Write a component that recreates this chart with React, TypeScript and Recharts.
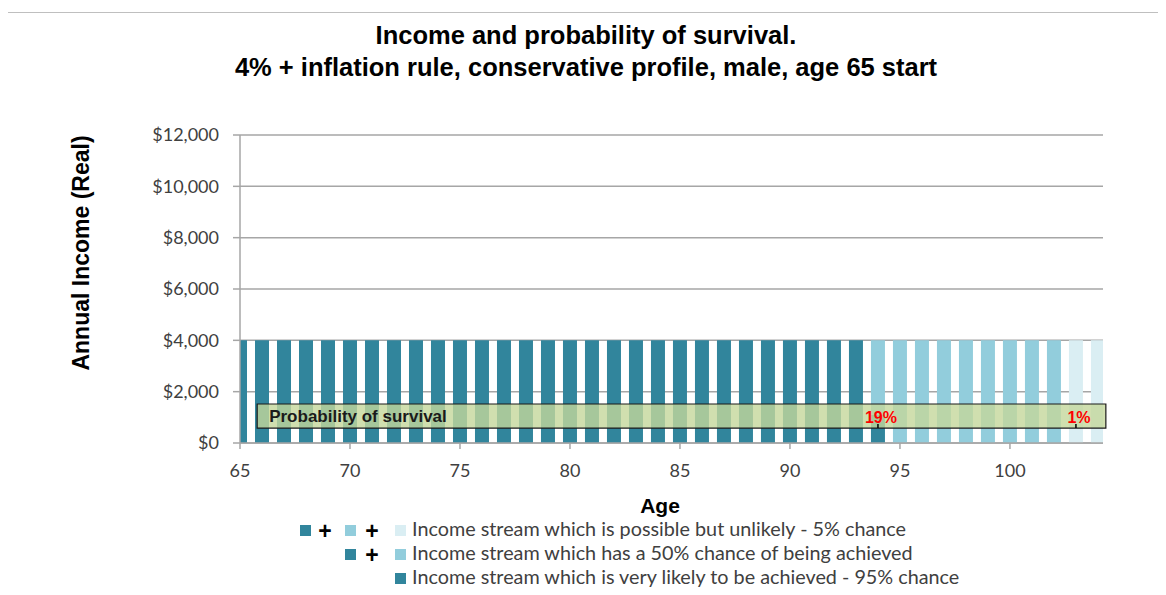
import React from "react";
import {
  BarChart,
  Bar,
  XAxis,
  YAxis,
  CartesianGrid,
  ReferenceArea,
  ReferenceLine,
} from "recharts";

// ages 65..104
const ages = [
  65, 66, 67, 68, 69, 70, 71, 72, 73, 74, 75, 76, 77, 78, 79, 80, 81, 82, 83, 84,
  85, 86, 87, 88, 89, 90, 91, 92, 93, 94, 95, 96, 97, 98, 99, 100, 101, 102, 103, 104,
];
const veryLikely = [
  4000, 4000, 4000, 4000, 4000, 4000, 4000, 4000, 4000, 4000, 4000, 4000, 4000, 4000, 4000,
  4000, 4000, 4000, 4000, 4000, 4000, 4000, 4000, 4000, 4000, 4000, 4000, 4000, 4000, 1100,
  0, 0, 0, 0, 0, 0, 0, 0, 0, 0,
];
const fiftyFifty = [
  0, 0, 0, 0, 0, 0, 0, 0, 0, 0, 0, 0, 0, 0, 0, 0, 0, 0, 0, 0, 0, 0, 0, 0, 0, 0, 0, 0, 0, 2900,
  4000, 4000, 4000, 4000, 4000, 4000, 4000, 4000, 0, 0,
];
const unlikely = [
  0, 0, 0, 0, 0, 0, 0, 0, 0, 0, 0, 0, 0, 0, 0, 0, 0, 0, 0, 0, 0, 0, 0, 0, 0, 0, 0, 0, 0, 0,
  0, 0, 0, 0, 0, 0, 0, 0, 4000, 4000,
];

const xTicks = [65, 70, 75, 80, 85, 90, 95, 100];
const yTicks = [0, 2000, 4000, 6000, 8000, 10000, 12000];

const survivalAges = [94, 103];
const survivalLabels = ["19%", "1%"];

const COLORS = {
  likely: "#31859c",
  fifty: "#92cddc",
  unlikely: "#daeef3",
};

const data = ages.map((age, i) => ({
  age,
  likely: veryLikely[i],
  fifty: fiftyFifty[i],
  unlikely: unlikely[i],
}));

const tickFont = { fontSize: 18, fill: "#404040", fontFamily: "Lato, sans-serif" };
const boldFont = "'Liberation Sans', Arial, sans-serif";

// legend slots, left to right
const SWATCH_X = [300, 345, 395];
const PLUS_X = [325, 372];

function Swatch({ color, x, y }: { color: string; x: number; y: number }) {
  return (
    <span
      style={{ position: "absolute", left: x, top: y - 5, width: 11, height: 11, background: color }}
    />
  );
}

function Plus({ x, y }: { x: number; y: number }) {
  return (
    <span
      style={{
        position: "absolute",
        left: x - 7,
        top: y - 11,
        width: 14,
        textAlign: "center",
        fontWeight: 900,
        fontSize: 23,
        lineHeight: "24px",
        fontFamily: boldFont,
        color: "#000",
      }}
    >
      +
    </span>
  );
}

function LegendRow({ y, colors, text }: { y: number; colors: string[]; text: string }) {
  const start = 3 - colors.length;
  return (
    <>
      {colors.map((c, i) => (
        <Swatch key={c} color={c} x={SWATCH_X[start + i]} y={y} />
      ))}
      {colors.slice(1).map((_, i) => (
        <Plus key={i} x={PLUS_X[start + i]} y={y} />
      ))}
      <div
        style={{
          position: "absolute",
          top: y - 12,
          left: 412,
          fontFamily: "Lato, sans-serif",
          fontSize: 19.8,
          lineHeight: "20px",
          color: "#404040",
          whiteSpace: "nowrap",
        }}
      >
        {text}
      </div>
    </>
  );
}

export default function App() {
  return (
    <div style={{ position: "relative", width: 1166, height: 595, margin: -8, overflow: "hidden", background: "#fff" }}>
      <div
        style={{
          position: "absolute",
          left: 5,
          top: 12,
          width: 1154,
          height: 620,
          border: "1.5px solid #bfbfbf",
        }}
      />
      <div
        style={{
          position: "absolute",
          top: 19,
          left: 0,
          width: 1172,
          textAlign: "center",
          fontFamily: boldFont,
          fontWeight: 700,
          fontSize: 25.5,
          lineHeight: "32px",
          color: "#000",
        }}
      >
        Income and probability of survival.
        <br />
        4% + inflation rule, conservative profile, male, age 65 start
      </div>

      <div style={{ position: "absolute", top: 0, left: 0 }}>
        <BarChart
          width={1166}
          height={595}
          data={data}
          margin={{ top: 135, right: 63, bottom: 92, left: 80 }}
          barSize={14}
        >
          <CartesianGrid vertical={false} stroke="#a6a6a6" strokeWidth={1.5} />
          <XAxis
            dataKey="age"
            type="number"
            domain={[65, 104.23]}
            ticks={xTicks}
            allowDataOverflow
            height={60}
            stroke="#a6a6a6"
            strokeWidth={1.5}
            tickSize={6}
            tickMargin={15}
            tick={tickFont}
            label={(props: any) => {
              const vb = props.viewBox;
              return (
                <text
                  x={660}
                  y={vb.y + 70}
                  textAnchor="middle"
                  fontFamily={boldFont}
                  fontWeight={700}
                  fontSize={21}
                  fill="#000"
                >
                  Age
                </text>
              );
            }}
          />
          <YAxis
            domain={[0, 12000]}
            ticks={yTicks}
            width={160}
            stroke="#a6a6a6"
            strokeWidth={1.5}
            tickSize={7}
            tickMargin={14}
            tick={tickFont}
            tickFormatter={(v: number) => `$${v.toLocaleString("en-US")}`}
            label={() => (
              <text
                x={89}
                y={253}
                transform="rotate(-90 89 253)"
                textAnchor="middle"
                fontFamily={boldFont}
                fontWeight={700}
                fontSize={23}
                fill="#000"
              >
                Annual Income (Real)
              </text>
            )}
          />
          <Bar dataKey="likely" stackId="a" fill={COLORS.likely} isAnimationActive={false} />
          <Bar dataKey="fifty" stackId="a" fill={COLORS.fifty} isAnimationActive={false} />
          <Bar dataKey="unlikely" stackId="a" fill={COLORS.unlikely} isAnimationActive={false} />
          <ReferenceArea
            x1={65.78}
            x2={104.36}
            y1={580}
            y2={1520}
            ifOverflow="visible"
            zIndex={700}
            fill="#c4d79b"
            fillOpacity={0.8}
            stroke="#1a1a1a"
            strokeWidth={1.2}
            label={{
              value: "Probability of survival",
              position: "insideLeft",
              offset: 12,
              fontFamily: boldFont,
              fontWeight: 700,
              fontSize: 17,
              fill: "#1a1a1a",
            }}
          />
          {survivalAges.map((a, i) => (
            <ReferenceLine
              key={a}
              segment={[
                { x: a, y: 580 },
                { x: a, y: 740 },
              ]}
              ifOverflow="visible"
              zIndex={800}
              stroke="#000"
              strokeWidth={1.5}
              label={{
                value: survivalLabels[i],
                position: "top",
                offset: 1,
                dx: 3,
                fontFamily: boldFont,
                fontWeight: 700,
                fontSize: 16,
                fill: "#ff0000",
              }}
            />
          ))}
        </BarChart>
      </div>

      <LegendRow
        y={530}
        colors={[COLORS.likely, COLORS.fifty, COLORS.unlikely]}
        text="Income stream which is possible but unlikely - 5% chance"
      />
      <LegendRow
        y={554}
        colors={[COLORS.likely, COLORS.fifty]}
        text="Income stream which has a 50% chance of being achieved"
      />
      <LegendRow
        y={578}
        colors={[COLORS.likely]}
        text="Income stream which is very likely to be achieved - 95% chance"
      />
    </div>
  );
}
